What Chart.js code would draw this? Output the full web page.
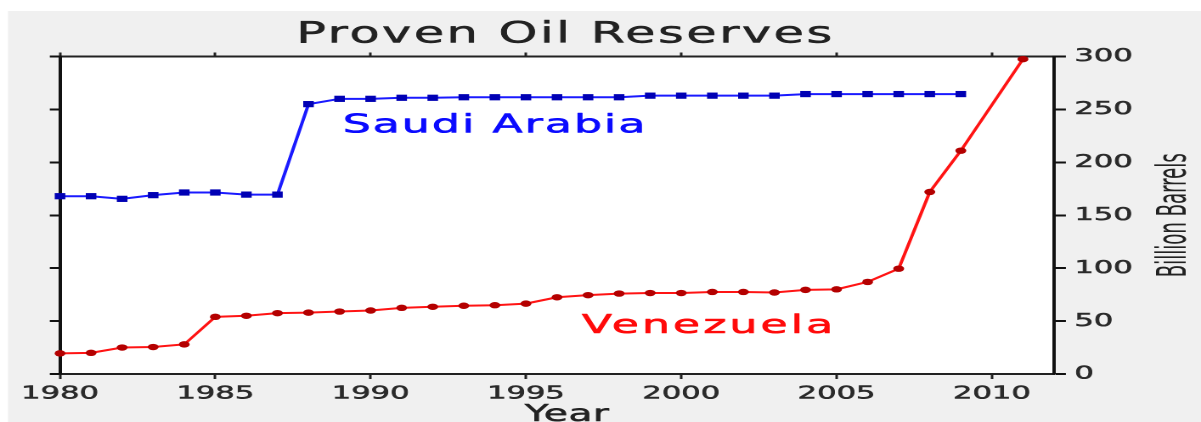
<!DOCTYPE html>
<html><head><meta charset="utf-8">
<script src="https://cdn.jsdelivr.net/npm/chart.js@4.4.1/dist/chart.umd.min.js"></script>
<style>
html,body{margin:0;padding:0;background:#fff;overflow:hidden;width:1201px;height:422px}
#wrap{width:707px;height:422px;transform:scaleX(1.698727);transform-origin:0 0}
canvas{display:block}
</style></head><body>
<div id="wrap"><canvas id="c" width="707" height="422"></canvas></div>
<script>
const S = 1201 / 707;

const titleText = 'Proven Oil Reserves';
const xAxisTitle = 'Year';
const yAxisTitle = 'Billion Barrels';
const saudiLabel = 'Saudi Arabia';
const venezuelaLabel = 'Venezuela';

const saudiYears = [1980,1981,1982,1983,1984,1985,1986,1987,1988,1989,1990,1991,1992,1993,1994,1995,1996,1997,1998,1999,2000,2001,2002,2003,2004,2005,2006,2007,2008,2009];
const saudiArabia = [168,168,165.5,169,171.5,171.5,169.5,169.5,255,260,260,261,261,261.5,261.5,261.5,261.5,261.5,261.5,263,263,263,263,263,264.5,264.5,264.5,264.5,264.5,264.5];

const venezuelaYears = [1980,1981,1982,1983,1984,1985,1986,1987,1988,1989,1990,1991,1992,1993,1994,1995,1996,1997,1998,1999,2000,2001,2002,2003,2004,2005,2006,2007,2008,2009,2011];
const venezuela = [19.5,20,25,25.5,28,54,55,57.5,58,59,60,62.5,63.5,64.5,65,66.5,72.5,74.5,76,76.5,76.5,77.5,77.5,77,79.5,80,87,99.5,172,211,297.5];

const yearTicks = [1980,1985,1990,1995,2000,2005,2010];
const valueTicks = [0,50,100,150,200,250,300];
const xMin = 1980, xMax = 2012, yMin = 0, yMax = 300;

const saudiLabelAt = [1989.1, 228];
const venezuelaLabelAt = [1996.8, 38.8];

const setTicks = arr => s => { s.ticks = arr.map(v => ({ value: v })); };

const decor = {
  id: 'decor',
  beforeDraw(chart) {
    const { ctx, width, height } = chart;
    const a = chart.chartArea;
    ctx.save();
    ctx.fillStyle = '#f0f0f0';
    ctx.fillRect(8 / S, 11, width, height);
    ctx.fillStyle = '#ffffff';
    ctx.fillRect(a.left, a.top, a.right - a.left, a.bottom - a.top);
    ctx.restore();
  },
  afterDraw(chart) {
    const { ctx } = chart;
    const a = chart.chartArea;
    const xs = chart.scales.x, ys = chart.scales.y2;
    const txt = (s, px, py, font, color, align, ls, sw) => {
      ctx.font = font; ctx.fillStyle = color; ctx.strokeStyle = color; ctx.textAlign = align;
      ctx.textBaseline = 'alphabetic'; ctx.letterSpacing = ls || '0px';
      ctx.lineJoin = 'round';
      if (sw) { ctx.lineWidth = sw; ctx.strokeText(s, px, py); }
      ctx.fillText(s, px, py);
    };
    ctx.save();
    txt(titleText, 565.5 / S, 42.5, '29px "DejaVu Sans"', '#222222', 'center', '1.5px', 0.5);
    txt(xAxisTitle, 567 / S, 421, '23px "DejaVu Sans"', '#222222', 'center', '0.3px', 0.5);
    txt(saudiLabel, xs.getPixelForValue(saudiLabelAt[0]), ys.getPixelForValue(saudiLabelAt[1]),
        '26px "DejaVu Sans"', '#0a0aff', 'left', '1.2px', 0.6);
    txt(venezuelaLabel, xs.getPixelForValue(venezuelaLabelAt[0]), ys.getPixelForValue(venezuelaLabelAt[1]),
        '26px "DejaVu Sans"', '#ff0a0a', 'left', '1.8px', 0.6);
    // rotated right-hand axis title, fitted to the reference length
    const yFont = '24px "Liberation Sans Narrow", "DejaVu Sans Condensed", sans-serif';
    ctx.font = yFont; ctx.letterSpacing = '0px';
    const w = ctx.measureText(yAxisTitle).width;
    ctx.translate(1186 / S, (a.top + a.bottom) / 2);
    ctx.rotate(-Math.PI / 2);
    ctx.scale(124 / w, 1);
    txt(yAxisTitle, 0, 0, yFont, '#222222', 'center', '0px', 0);
    ctx.restore();
  }
};

const tickFont = { family: 'DejaVu Sans', size: 18 };

new Chart(document.getElementById('c'), {
  type: 'line',
  data: {
    datasets: [
      {
        label: saudiLabel,
        data: saudiYears.map((yr, i) => ({ x: yr, y: saudiArabia[i] })),
        yAxisID: 'y2', xAxisID: 'x',
        borderColor: '#1a1aff', borderWidth: 2,
        pointStyle: 'rect', pointRadius: 4.4,
        pointBackgroundColor: '#0000b4', pointBorderColor: '#0000b4', pointBorderWidth: 0,
        tension: 0, clip: false
      },
      {
        label: venezuelaLabel,
        data: venezuelaYears.map((yr, i) => ({ x: yr, y: venezuela[i] })),
        yAxisID: 'y2', xAxisID: 'x',
        borderColor: '#ff1414', borderWidth: 2,
        pointStyle: 'circle', pointRadius: 3.2,
        pointBackgroundColor: '#b40000', pointBorderColor: '#b40000', pointBorderWidth: 0,
        tension: 0, clip: false
      }
    ]
  },
  options: {
    responsive: false,
    devicePixelRatio: 2,
    animation: false,
    layout: { padding: 0 },
    plugins: { legend: { display: false }, tooltip: { enabled: false }, title: { display: false } },
    scales: {
      x: {
        type: 'linear', position: 'bottom', min: xMin, max: xMax,
        afterBuildTicks: setTicks(yearTicks),
        afterFit: s => { s.height = 422 - 374; },
        ticks: { font: tickFont, color: '#2a2a2a', padding: 4, maxRotation: 0, autoSkip: false,
                 textStrokeColor: '#2a2a2a', textStrokeWidth: 0.5, callback: v => String(v) },
        grid: { drawOnChartArea: false, drawTicks: true, tickLength: 5, tickColor: '#222', tickWidth: 1.5 },
        border: { display: true, color: '#222', width: 2 }
      },
      x2: {
        type: 'linear', position: 'top', min: xMin, max: xMax,
        afterBuildTicks: setTicks(yearTicks),
        afterFit: s => { s.height = 56.5; },
        ticks: { display: false },
        grid: { drawOnChartArea: false, drawTicks: true, tickLength: 4, tickColor: '#222', tickWidth: 1.5 },
        border: { display: true, color: '#222', width: 2 }
      },
      y: {
        type: 'linear', position: 'left', min: yMin, max: yMax,
        afterBuildTicks: setTicks(valueTicks),
        afterFit: s => { s.width = 60 / S; },
        ticks: { display: false },
        grid: { drawOnChartArea: false, drawTicks: true, tickLength: 6, tickColor: '#111', tickWidth: 2 },
        border: { display: true, color: '#111', width: 2 }
      },
      y2: {
        type: 'linear', position: 'right', min: yMin, max: yMax,
        afterBuildTicks: setTicks(valueTicks),
        afterFit: s => { s.width = 707 - 1054 / S; },
        ticks: { font: tickFont, color: '#2a2a2a', padding: 5,
                 textStrokeColor: '#2a2a2a', textStrokeWidth: 0.5, callback: v => String(v) },
        grid: { drawOnChartArea: false, drawTicks: true, tickLength: 7, tickColor: '#111', tickWidth: 2 },
        border: { display: true, color: '#111', width: 2 }
      }
    }
  },
  plugins: [decor]
});
</script>
</body></html>
